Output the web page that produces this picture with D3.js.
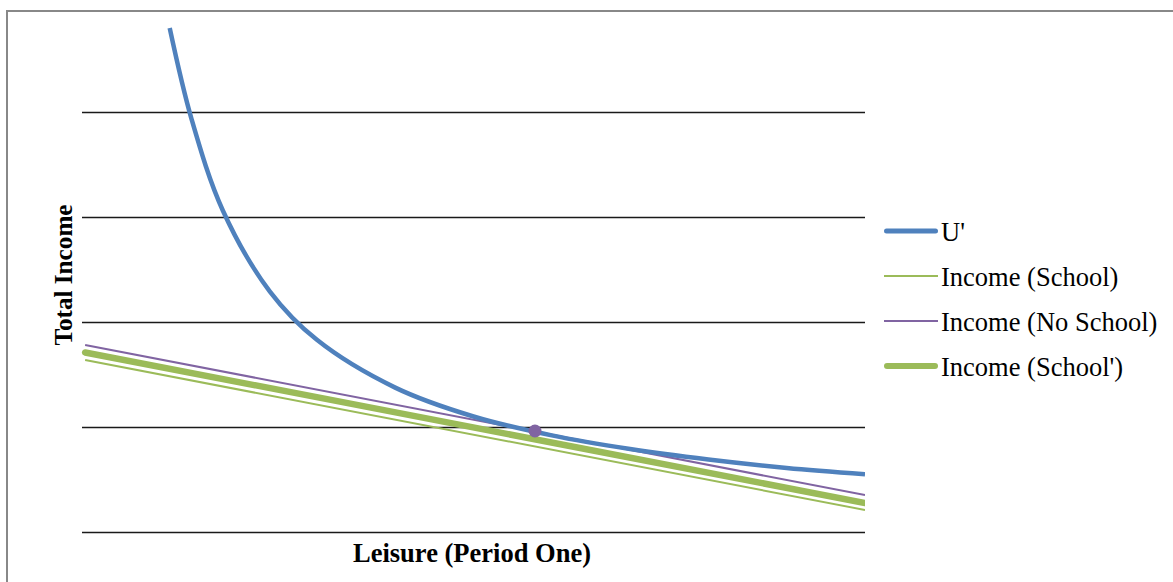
<!DOCTYPE html>
<html>
<head>
<meta charset="utf-8">
<script src="https://cdn.jsdelivr.net/npm/d3@7/dist/d3.min.js"></script>
<style>
  html, body { margin: 0; padding: 0; background: #fff; }
  svg { display: block; }
</style>
</head>
<body>
<svg id="chart" width="1173" height="582"></svg>
<script>
// ---- Data ----
const xTitle = "Leisure (Period One)";
const yTitle = "Total Income";
const gridValues = [0, 1, 2, 3, 4];

// U' indifference curve
const uX = [1.12, 1.4, 1.8, 2.4, 3.0, 4.0, 5.0, 6.0, 7.0, 8.0, 9.0, 10.0];
const uY = [4.80, 3.93, 3.06, 2.29, 1.83, 1.375, 1.10, 0.92, 0.79, 0.69, 0.61, 0.55];

// Budget lines
const schoolX = [0.04, 10.0];
const schoolY = [1.638, 0.21];
const noSchoolX = [0.04, 10.0];
const noSchoolY = [1.781, 0.352];
const schoolPrimeX = [0.04, 10.0];
const schoolPrimeY = [1.71, 0.276];

// Tangency marker (on Income (No School))
const markerX = [5.785];
const markerY = [0.962];

const seriesNames = ["U'", "Income (School)", "Income (No School)", "Income (School')"];

// ---- Layout ----
const svg = d3.select("#chart");
const plot = { left: 82, right: 865, top: 7, bottom: 532 };
const serif = "'Liberation Serif', 'Times New Roman', Times, serif";

const x = d3.scaleLinear().domain([0, 10]).range([plot.left, plot.right]);
const y = d3.scaleLinear().domain([0, 5]).range([plot.bottom, plot.top]);

// outer border
svg.append("rect")
  .attr("x", 7).attr("y", 11)
  .attr("width", 1200).attr("height", 600)
  .attr("fill", "none")
  .attr("stroke", "#888888")
  .attr("stroke-width", 2);

// clip for plot
svg.append("defs").append("clipPath").attr("id", "plotClip")
  .append("rect")
  .attr("x", plot.left - 10).attr("y", 0)
  .attr("width", plot.right - plot.left + 10).attr("height", 582);

// gridlines
svg.append("g").selectAll("line")
  .data(gridValues)
  .join("line")
  .attr("x1", plot.left).attr("x2", plot.right)
  .attr("y1", d => Math.round(y(d)) + 0.5)
  .attr("y2", d => Math.round(y(d)) + 0.5)
  .attr("stroke", "#1a1a1a")
  .attr("stroke-width", 1.5);

const toPts = (xs, ys) => xs.map((v, i) => [v, ys[i]]);
const lineGen = d3.line().x(d => x(d[0])).y(d => y(d[1]));
const curveGen = d3.line().x(d => x(d[0])).y(d => y(d[1])).curve(d3.curveCatmullRom.alpha(0.5));

const g = svg.append("g").attr("clip-path", "url(#plotClip)");

g.append("path")
  .attr("d", lineGen(toPts(schoolX, schoolY)))
  .attr("fill", "none").attr("stroke", "#9bbb59").attr("stroke-width", 2);

g.append("path")
  .attr("d", lineGen(toPts(schoolPrimeX, schoolPrimeY)))
  .attr("fill", "none").attr("stroke", "#9bbb59").attr("stroke-width", 6.5)
  .attr("stroke-linecap", "round");

g.append("path")
  .attr("d", lineGen(toPts(noSchoolX, noSchoolY)))
  .attr("fill", "none").attr("stroke", "#8064a2").attr("stroke-width", 2);

g.append("path")
  .attr("d", curveGen(toPts(uX, uY)))
  .attr("fill", "none").attr("stroke", "#4f81bd").attr("stroke-width", 4.5);

g.selectAll("circle.m")
  .data(toPts(markerX, markerY))
  .join("circle")
  .attr("class", "m")
  .attr("cx", d => x(d[0])).attr("cy", d => y(d[1]))
  .attr("r", 6.5)
  .attr("fill", "#8064a2");

// axis titles
svg.append("text")
  .attr("x", 472).attr("y", 562)
  .attr("text-anchor", "middle")
  .attr("font-family", serif)
  .attr("font-weight", "bold")
  .attr("font-size", 26.5)
  .attr("fill", "#000")
  .text(xTitle);

svg.append("text")
  .attr("transform", "translate(72,275) rotate(-90)")
  .attr("text-anchor", "middle")
  .attr("font-family", serif)
  .attr("font-weight", "bold")
  .attr("font-size", 25.2)
  .attr("fill", "#000")
  .text(yTitle);

// legend
const legendStyles = [
  { color: "#4f81bd", width: 5, cap: "round" },
  { color: "#9bbb59", width: 2, cap: "butt" },
  { color: "#8064a2", width: 2, cap: "butt" },
  { color: "#9bbb59", width: 6, cap: "round" }
];
const legendY = [231, 276, 321, 366];
const lg = svg.append("g");
seriesNames.forEach((name, i) => {
  const st = legendStyles[i];
  const inset = st.cap === "round" ? st.width / 2 : 0;
  lg.append("line")
    .attr("x1", 884 + inset).attr("x2", 938 - inset)
    .attr("y1", legendY[i]).attr("y2", legendY[i])
    .attr("stroke", st.color).attr("stroke-width", st.width)
    .attr("stroke-linecap", st.cap);
  lg.append("text")
    .attr("x", 941).attr("y", legendY[i] + 10)
    .attr("font-family", serif)
    .attr("font-size", 26.5)
    .attr("fill", "#000")
    .text(name);
});
</script>
</body>
</html>
